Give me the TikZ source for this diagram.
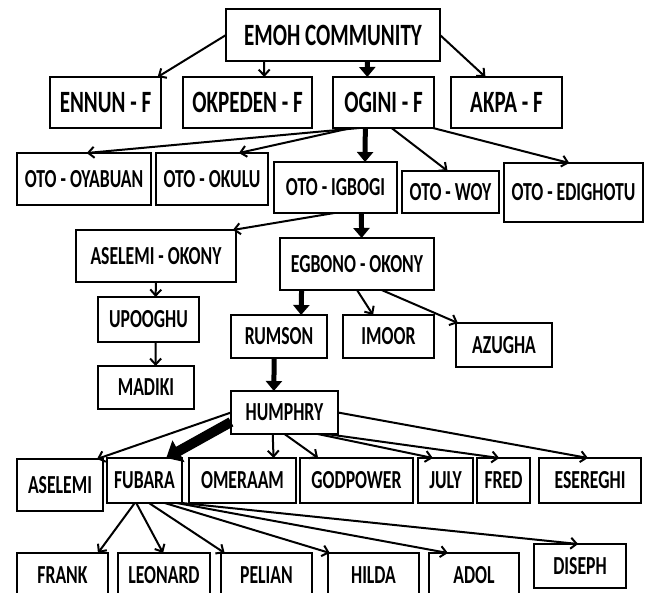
\documentclass[tikz,border=0pt]{standalone}
\usepackage{fontspec}
\newfontfamily\boxfont{Carlito}[FakeStretch=0.68]
\usetikzlibrary{arrows.meta,calc}
\begin{document}
\begin{tikzpicture}[x=1pt,y=-1pt,
  box/.style={draw,line width=2.2pt,inner sep=0pt,outer sep=0pt,fill=white,
    font=\boxfont\bfseries\fontsize{26}{26}\selectfont},
  big/.style={font=\boxfont\bfseries\fontsize{31}{31}\selectfont},
  thinarr/.style={line width=2pt,-{Straight Barb[length=6pt,width=11pt,line width=2pt]}},
  thickarr/.style={line width=5pt,-{Triangle[length=10pt,width=16pt]}},
  heavyarr/.style={line width=10pt,-{Triangle[length=14pt,width=24pt]}}
]
\useasboundingbox (0,0) rectangle (645,592);
\clip (0,0) rectangle (645,592);
% level 0/1
\node[box,big,minimum width=214pt,minimum height=52pt] (emoh) at (333,35) {EMOH COMMUNITY};
\node[box,big,minimum width=111pt,minimum height=51pt] (ennun) at (105.5,102.5) {ENNUN - F};
\node[box,big,minimum width=129pt,minimum height=51pt] (okpeden) at (247.5,102.5) {OKPEDEN - F};
\node[box,big,minimum width=101pt,minimum height=51pt] (ogini) at (383.5,102.5) {OGINI - F};
\node[box,big,minimum width=111pt,minimum height=51pt] (akpa) at (506.5,102.5) {AKPA - F};
% level 2
\node[box,minimum width=134pt,minimum height=52pt] (oyabuan) at (84,179) {OTO - OYABUAN};
\node[box,minimum width=112pt,minimum height=52pt] (okulu) at (212,179) {OTO - OKULU};
\node[box,minimum width=123pt,minimum height=51pt] (igbogi) at (335.5,187.5) {OTO - IGBOGI};
\node[box,minimum width=97pt,minimum height=42pt] (woy) at (450.5,192) {OTO - WOY};
\node[box,minimum width=139pt,minimum height=59pt] (edighotu) at (573.5,192.5) {OTO - EDIGHOTU};
% level 3
\node[box,minimum width=160pt,minimum height=52pt] (aselemiokony) at (156,256) {ASELEMI - OKONY};
\node[box,minimum width=154pt,minimum height=52pt] (egbono) at (357,264) {EGBONO - OKONY};
% level 4
\node[box,minimum width=101pt,minimum height=45pt] (upooghu) at (148.5,319.5) {UPOOGHU};
\node[box,minimum width=96pt,minimum height=43pt] (madiki) at (146,387.5) {MADIKI};
\node[box,minimum width=96pt,minimum height=43pt] (rumson) at (279,336.5) {RUMSON};
\node[box,minimum width=91pt,minimum height=43pt] (imoor) at (388.5,336.5) {IMOOR};
\node[box,minimum width=96pt,minimum height=44pt] (azugha) at (504,345) {AZUGHA};
\node[box,minimum width=107pt,minimum height=43pt] (humphry) at (284.5,412.5) {HUMPHRY};
% level 5
\node[box,minimum width=86pt,minimum height=52pt] (aselemi) at (60,485) {ASELEMI};
\node[box,minimum width=75pt,minimum height=45pt] (fubara) at (144.5,480.5) {FUBARA};
\node[box,minimum width=107pt,minimum height=45pt] (omeraam) at (242.5,480.5) {OMERAAM};
\node[box,minimum width=113pt,minimum height=45pt] (godpower) at (356.5,480.5) {GODPOWER};
\node[box,minimum width=55pt,minimum height=45pt] (july) at (445.5,480.5) {JULY};
\node[box,minimum width=53pt,minimum height=45pt] (fred) at (503.5,480.5) {FRED};
\node[box,minimum width=102pt,minimum height=45pt] (esereghi) at (590,480.5) {ESEREGHI};
% level 6
\node[box,minimum width=91pt,minimum height=44pt] (frank) at (62.5,575) {FRANK};
\node[box,minimum width=92pt,minimum height=44pt] (leonard) at (164,575) {LEONARD};
\node[box,minimum width=91pt,minimum height=44pt] (pelian) at (266.5,575) {PELIAN};
\node[box,minimum width=91pt,minimum height=44pt] (hilda) at (373.5,575) {HILDA};
\node[box,minimum width=90pt,minimum height=44pt] (adol) at (474,575) {ADOL};
\node[box,minimum width=92pt,minimum height=44pt] (diseph) at (580,566) {DISEPH};
% connectors
\draw[thinarr] (emoh.west) -- ($(ennun.north west)!0.97!(ennun.north east)$);
\draw[thinarr] ($(emoh.south west)!0.178!(emoh.south east)$) -- ($(okpeden.north west)!0.63!(okpeden.north east)$);
\draw[thickarr] ($(emoh.south west)!0.66!(emoh.south east)$) -- ($(ogini.north west)!0.34!(ogini.north east)$);
\draw[thinarr] (emoh.east) -- ($(akpa.north west)!0.31!(akpa.north east)$);
\draw[thinarr] ($(ogini.south west)!0.26!(ogini.south east)$) -- ($(oyabuan.north west)!0.52!(oyabuan.north east)$);
\draw[thinarr] ($(ogini.south west)!0.18!(ogini.south east)$) -- ($(okulu.north west)!0.74!(okulu.north east)$);
\draw[thickarr] ($(ogini.south west)!0.32!(ogini.south east)$) -- ($(igbogi.north west)!0.74!(igbogi.north east)$);
\draw[thinarr] ($(ogini.south west)!0.58!(ogini.south east)$) -- ($(woy.north west)!0.47!(woy.north east)$);
\draw[thinarr] ($(ogini.south west)!0.99!(ogini.south east)$) -- ($(edighotu.north west)!0.47!(edighotu.north east)$);
\draw[thinarr] ($(igbogi.south west)!0.49!(igbogi.south east)$) -- ($(aselemiokony.north west)!0.98!(aselemiokony.north east)$);
\draw[thickarr] ($(igbogi.south west)!0.71!(igbogi.south east)$) -- ($(egbono.north west)!0.53!(egbono.north east)$);
\draw[thinarr] ($(aselemiokony.south west)!0.5!(aselemiokony.south east)$) -- ($(upooghu.north west)!0.57!(upooghu.north east)$);
\draw[thickarr] ($(egbono.south west)!0.14!(egbono.south east)$) -- ($(rumson.north west)!0.73!(rumson.north east)$);
\draw[thinarr] ($(egbono.south west)!0.5!(egbono.south east)$) -- ($(imoor.north west)!0.33!(imoor.north east)$);
\draw[thinarr] ($(egbono.south west)!0.66!(egbono.south east)$) -- ($(azugha.north west)!0.02!(azugha.north east)$);
\draw[thinarr] ($(upooghu.south west)!0.57!(upooghu.south east)$) -- ($(madiki.north west)!0.6!(madiki.north east)$);
\draw[thickarr] ($(rumson.south west)!0.45!(rumson.south east)$) -- ($(humphry.north west)!0.40!(humphry.north east)$);
\draw[thinarr] (humphry.west) -- ($(aselemi.north west)!0.93!(aselemi.north east)$);
\draw[heavyarr] ($(humphry.north west)!0.72!(humphry.south west)$) -- ($(fubara.north west)!0.79!(fubara.north east)$);
\draw[thinarr] ($(humphry.south west)!0.39!(humphry.south east)$) -- ($(omeraam.north west)!0.79!(omeraam.north east)$);
\draw[thinarr] ($(humphry.south west)!0.5!(humphry.south east)$) -- ($(godpower.north west)!0.16!(godpower.north east)$);
\draw[thinarr] ($(humphry.south west)!0.81!(humphry.south east)$) -- ($(july.north west)!0.27!(july.north east)$);
\draw[thinarr] ($(humphry.south west)!0.89!(humphry.south east)$) -- ($(fred.north west)!0.42!(fred.north east)$);
\draw[thinarr] (humphry.east) -- ($(esereghi.north west)!0.48!(esereghi.north east)$);
\draw[thinarr] ($(fubara.south west)!0.37!(fubara.south east)$) -- ($(frank.north west)!0.89!(frank.north east)$);
\draw[thinarr] ($(fubara.south west)!0.39!(fubara.south east)$) -- ($(leonard.north west)!0.49!(leonard.north east)$);
\draw[thinarr] ($(fubara.south west)!0.56!(fubara.south east)$) -- ($(pelian.north west)!0.04!(pelian.north east)$);
\draw[thinarr] ($(fubara.south west)!0.77!(fubara.south east)$) -- ($(hilda.north west)!0.02!(hilda.north east)$);
\draw[thinarr] ($(fubara.south west)!0.93!(fubara.south east)$) -- ($(adol.north west)!0.21!(adol.north east)$);
\draw[thinarr] (fubara.south east) -- ($(diseph.north west)!0.48!(diseph.north east)$);
\end{tikzpicture}
\end{document}
